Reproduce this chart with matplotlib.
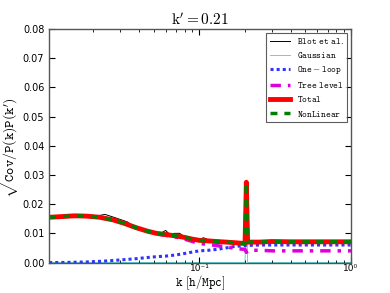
import matplotlib
matplotlib.use("Agg")
import matplotlib.pyplot as plt

plt.rcParams['mathtext.fontset'] = 'dejavusans'

# grid of k values (h/Mpc)
k = [0.0102, 0.012, 0.015, 0.018, 0.022, 0.027, 0.032, 0.038, 0.045, 0.052,
     0.06, 0.07, 0.08, 0.09, 0.1, 0.115, 0.13, 0.15, 0.17, 0.19, 0.2, 0.204,
     0.208, 0.22, 0.25, 0.3, 0.4, 0.5, 0.6, 0.8, 1.0]
total = [0.0155, 0.0157, 0.0160, 0.0159, 0.0155, 0.0146, 0.0134, 0.0120, 0.0108, 0.0100,
         0.0096, 0.0091, 0.0086, 0.0080, 0.0076, 0.0074, 0.0072, 0.0070, 0.0068, 0.0066, 0.0065, 0.0275,
         0.0070, 0.0070, 0.0070, 0.0072, 0.0071, 0.0071, 0.0071, 0.0071, 0.0071]
nonlinear = total
one_loop = [0.0000, 0.0000, 0.0001, 0.0002, 0.0004, 0.0007, 0.0010, 0.0013, 0.0017, 0.0020,
            0.0022, 0.0026, 0.0031, 0.0036, 0.0040, 0.0042, 0.0045, 0.0050, 0.0055, 0.0057, 0.0058, 0.0058,
            0.0058, 0.0059, 0.0060, 0.0060, 0.0060, 0.0060, 0.0060, 0.0060, 0.0060]
tree = [0.0155, 0.0157, 0.0160, 0.0159, 0.0155, 0.0146, 0.0134, 0.0119, 0.0107, 0.0098,
        0.0093, 0.0087, 0.0080, 0.0072, 0.0065, 0.0062, 0.0058, 0.0053, 0.0049, 0.0046, 0.0045, 0.0035,
        0.0040, 0.0042, 0.0042, 0.0040, 0.0040, 0.0040, 0.0040, 0.0040, 0.0040]
gaussian = [0.0, 0.0, 0.0, 0.0, 0.0, 0.0, 0.0, 0.0, 0.0, 0.0,
            0.0, 0.0, 0.0, 0.0, 0.0, 0.0, 0.0, 0.0, 0.0, 0.0, 0.0, 0.0275,
            0.0, 0.0, 0.0, 0.0, 0.0, 0.0, 0.0, 0.0, 0.0]

k_blot = [0.0102, 0.015, 0.02, 0.0238, 0.028, 0.0335, 0.037, 0.045, 0.052, 0.056, 0.0598,
          0.064, 0.068, 0.074, 0.08, 0.09, 0.1, 0.106, 0.11, 0.118, 0.125, 0.135, 0.145,
          0.16, 0.175, 0.19, 0.2, 0.204, 0.208, 0.23, 0.27, 0.33, 0.4, 0.5, 0.7, 1.0]
blot = [0.0155, 0.0160, 0.0157, 0.0165, 0.0153, 0.0139, 0.0122, 0.0108, 0.0101, 0.0101, 0.0110,
        0.0095, 0.0100, 0.0100, 0.0088, 0.0081, 0.0077, 0.0085, 0.0082, 0.0074, 0.0076, 0.0071, 0.0075,
        0.0069, 0.0070, 0.0066, 0.0066, 0.0275, 0.0070, 0.0071, 0.0072, 0.0071, 0.0073, 0.0071, 0.0072, 0.0071]

labels = [r'$\mathtt{Blot\ et\ al.}$', r'$\mathtt{Gaussian}$', r'$\mathtt{One-loop}$',
          r'$\mathtt{Tree\ level}$', r'$\mathtt{Total}$', r'$\mathtt{NonLinear}$']
xtick_vals = [0.1, 1.0]
xtick_labels = ['10\u207b\u00b9', '10\u2070']

fig = plt.figure(figsize=(3.9, 2.93), dpi=100)
ax = fig.add_axes([0.126, 0.104, 0.774, 0.797])

ax.plot(k_blot, blot, color='black', lw=0.7, label=labels[0])
ax.plot(k, gaussian, color='#40d0d0', lw=0.6, label=labels[1], zorder=1)
ax.plot(k, one_loop, color='#3333ff', lw=2.2, ls=(0, (1, 1)), label=labels[2])
ax.plot(k, tree, color='#dd00dd', lw=2.5, ls=(0, (3, 2, 1, 2)), label=labels[3])
ax.plot(k, total, color='red', lw=3.5, label=labels[4])
ax.plot(k, nonlinear, color='green', lw=2.5, ls=(0, (2, 2)), label=labels[5])

ax.set_xscale('log')
ax.set_xlim(0.0102, 1.0)
ax.set_ylim(0.0, 0.08)
ax.set_xticks(xtick_vals, xtick_labels)
ax.set_yticks([0.0, 0.01, 0.02, 0.03, 0.04, 0.05, 0.06, 0.07, 0.08])
ax.set_yticklabels(['0.00', '0.01', '0.02', '0.03', '0.04', '0.05', '0.06', '0.07', '0.08'])
ax.tick_params(axis='both', which='both', direction='in', top=True, right=True, labelsize=7)
ax.tick_params(axis='x', which='minor', labelbottom=False)
ax.tick_params(axis='x', pad=1, labelsize=6.5)
ax.tick_params(which='major', length=4)
ax.tick_params(which='minor', length=2)
for s in ax.spines.values():
    s.set_color('#555555')
    s.set_linewidth(1.0)

ax.set_title(r"$\mathrm{k}' = 0.21$", fontsize=11, pad=3, math_fontfamily='cm')
ax.set_xlabel(r"$\mathtt{k\ [h/Mpc]}$", fontsize=9, math_fontfamily='cm')
ax.xaxis.label.set_va('bottom')
ax.xaxis.set_label_coords(0.5, -0.127)
ax.set_ylabel(r"$\sqrt{\mathtt{Cov/P(k)P(k')}}$", fontsize=10, labelpad=1, math_fontfamily='cm')

leg = ax.legend(loc='upper right', fontsize=6.5, frameon=True, fancybox=False,
                handlelength=2.2, borderaxespad=0.4, labelspacing=0.45)
leg.get_frame().set_edgecolor('#333333')
leg.get_frame().set_linewidth(0.8)
for t in leg.get_texts():
    t.set_math_fontfamily('cm')

fig.savefig('out.png', dpi=100)
